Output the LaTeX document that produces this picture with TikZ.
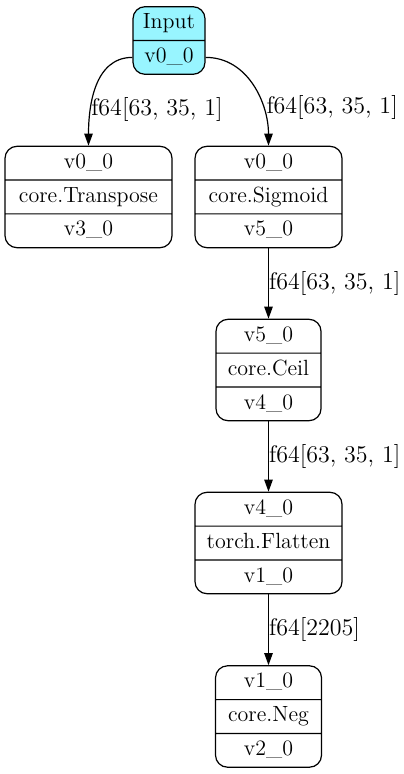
\documentclass[tikz,border=0pt]{standalone}
\usetikzlibrary{shapes.multipart,arrows.meta}
\definecolor{inputcyan}{RGB}{152,245,255}

\begin{document}
\begin{tikzpicture}[x=0.5pt, y=-0.5pt, line width=0.6pt,
		record/.style={draw, rectangle split, rectangle split parts=3, rounded corners=6pt, align=center, font=\fontsize{11}{13}\selectfont, inner xsep=0pt, inner ysep=1.65pt, execute at begin node=\strut},
		flow/.style={-{Triangle[length=6pt, width=4.2pt]}},
		shape label/.style={anchor=west, inner sep=0pt, font=\fontsize{12}{14}\selectfont}]
		\useasboundingbox (0,0) rectangle (403,774);
		
		\node[record, rectangle split parts=2, fill=inputcyan, text width=36pt] (Input) at (169, 40.5)
			{Input \nodepart{two} v0\_0};
		\node[record, text width=83.5pt] (Transpose) at (88.5, 197)
			{v0\_0 \nodepart{two} core.Transpose \nodepart{three} v3\_0};
		\node[record, text width=73.5pt] (Sigmoid) at (268.5, 197)
			{v0\_0 \nodepart{two} core.Sigmoid \nodepart{three} v5\_0};
		\node[record, text width=52.5pt] (Ceil) at (268.5, 370)
			{v5\_0 \nodepart{two} core.Ceil \nodepart{three} v4\_0};
		\node[record, text width=73.5pt] (Flatten) at (268.5, 543)
			{v4\_0 \nodepart{two} torch.Flatten \nodepart{three} v1\_0};
		\node[record, text width=53pt] (Neg) at (268.5, 716.5)
			{v1\_0 \nodepart{two} core.Neg \nodepart{three} v2\_0};
		
		\draw[flow] (Input.two west) to[out=180, in=90] node[shape label, pos=0.7] {f64[63, 35, 1]} (Transpose.north);
		\draw[flow] (Input.two east) to[out=0, in=90] node[shape label, pos=0.7, xshift=1.5pt] {f64[63, 35, 1]} (Sigmoid.north);
		\draw[flow] (Sigmoid) -- node[shape label] {f64[63, 35, 1]} (Ceil);
		\draw[flow] (Ceil) -- node[shape label] {f64[63, 35, 1]} (Flatten);
		\draw[flow] (Flatten) -- node[shape label] {f64[2205]} (Neg);
		
	\end{tikzpicture}
\end{document}
